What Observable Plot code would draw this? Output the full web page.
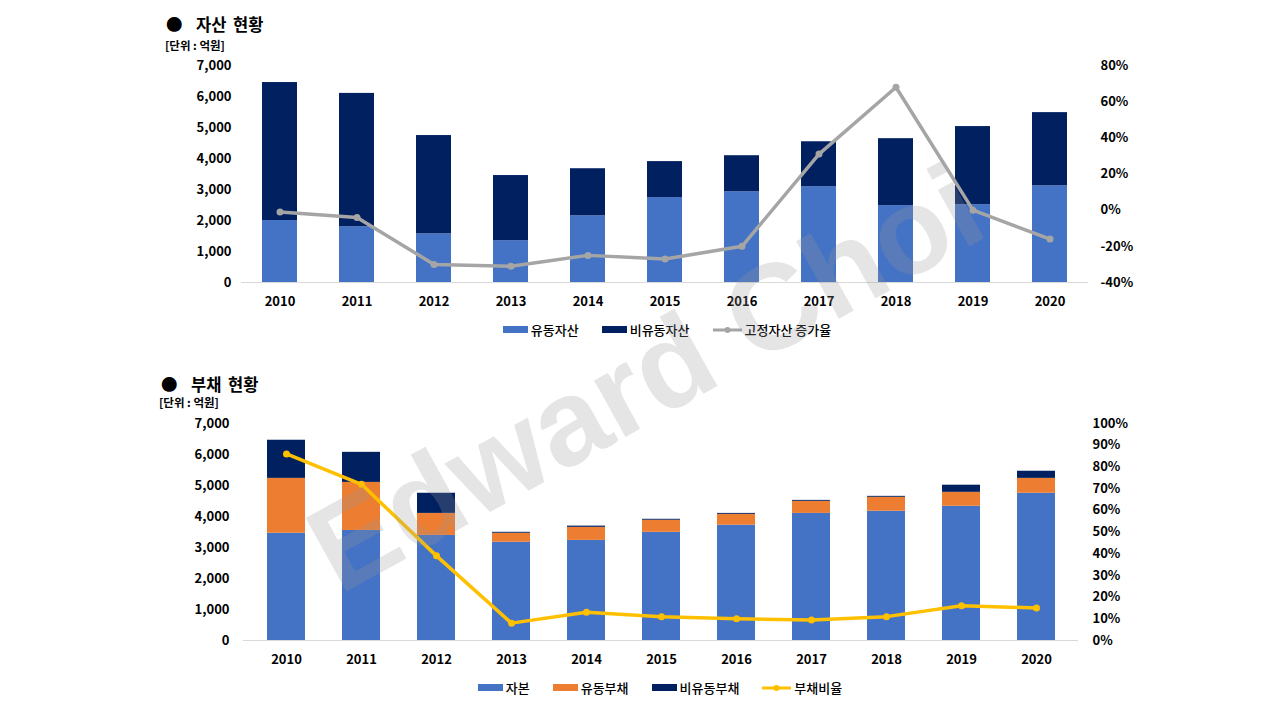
<!DOCTYPE html>
<html>
<head>
<meta charset="utf-8">
<script src="https://cdn.jsdelivr.net/npm/d3@7"></script>
<script src="https://cdn.jsdelivr.net/npm/@observablehq/plot@0.6"></script>
<style>
  body { margin: 0; width: 1280px; height: 720px; background: #fff; position: relative; overflow: hidden;
         font-family: "Noto Sans CJK KR", "Noto Sans", sans-serif; color: #000; }
  .title { position: absolute; font-size: 16.5px; font-weight: bold; white-space: nowrap; word-spacing: 3px; }
  .unit { position: absolute; font-size: 11.5px; font-weight: bold; white-space: nowrap; }
  .chart { position: absolute; left: 0; }
  .legend { position: absolute; width: 1280px; display: flex; justify-content: center; align-items: center;
            font-size: 13px; font-weight: 500; gap: 23px; }
  .legend span.item { display: flex; align-items: center; gap: 3px; }
  .sw { display: inline-block; width: 25px; height: 7px; }
  .watermark { position: absolute; left: 645px; top: 378px; transform: translate(-50%, -50%) rotate(-29deg);
               font-family: "Liberation Sans", Arial, sans-serif; font-weight: bold; font-size: 122px;
               color: rgba(150,150,150,0.25); white-space: nowrap; pointer-events: none; z-index: 10; }
</style>
</head>
<body>
<div class="title" style="left:166px; top:12px;">●&nbsp; 자산 현황</div>
<div class="unit" style="left:165px; top:37px;">[단위 : 억원]</div>
<div id="chart1" class="chart" style="top:55px;"></div>
<div id="legend1" class="legend" style="left:27px; top:320px;"></div>

<div class="title" style="left:161px; top:372px;">●&nbsp; 부채 현황</div>
<div class="unit" style="left:159px; top:394px;">[단위 : 억원]</div>
<div id="chart2" class="chart" style="top:413px;"></div>
<div id="legend2" class="legend" style="left:20px; top:678px;"></div>

<div class="watermark">Edward Choi</div>

<script>
const years = ["2010","2011","2012","2013","2014","2015","2016","2017","2018","2019","2020"]

// 자산 현황 (억원)
const currentAssets    = [2000, 1800, 1570, 1350, 2150, 2740, 2930, 3090, 2480, 2510, 3120]
const nonCurrentAssets = [4450, 4300, 3170, 2100, 1520, 1160, 1160, 1450, 2160, 2520, 2360]
const fixedAssetGrowth = [-1, -4, -30, -31, -25, -27, -20, 31, 68, 0, -16]   // %

// 부채 현황 (억원)
const equity           = [3460, 3550, 3390, 3170, 3230, 3490, 3720, 4100, 4170, 4330, 4750]
const currentLiab      = [1770, 1550, 710, 290, 420, 390, 350, 390, 450, 450, 480]
const nonCurrentLiab   = [1230, 970, 650, 30, 40, 30, 30, 30, 30, 230, 230]
const debtRatio        = [86, 72, 39, 8, 13, 11, 10, 9.5, 11, 16, 15]        // %

const leftTicks = d3.range(0, 7001, 1000)
const blue = "#4472C4", navy = "#002060", orange = "#ED7D31", gray = "#A5A5A5", yellow = "#FFC000"

const style = {
  fontFamily: '"Noto Sans CJK KR", sans-serif',
  fontSize: '13px',
  fontWeight: 'bold',
  color: '#000',
  background: 'transparent',
  overflow: 'visible'
}

function stackRows(series) {
  let rows = []
  series.forEach(s => s.values.forEach((v, i) => rows.push({year: years[i], name: s.name, value: v})))
  return rows
}

// ---- chart 1 ----
let assets = stackRows([
  {name: "유동자산", values: currentAssets},
  {name: "비유동자산", values: nonCurrentAssets}
])
let toLeft1 = p => (p + 40) / 120 * 7000
let growth = years.map((y, i) => ({year: y, v: toLeft1(fixedAssetGrowth[i])}))
let rightTicks1 = [-40, -20, 0, 20, 40, 60, 80]

let chart1 = Plot.plot({
  width: 1280,
  height: 270,
  marginLeft: 241,
  marginRight: 192,
  marginTop: 10,
  marginBottom: 43,
  x: {domain: years, paddingInner: 0.545, paddingOuter: 0.2725, label: null},
  y: {domain: [0, 7000], label: null},
  color: {domain: ["유동자산", "비유동자산"], range: [blue, navy]},
  marks: [
    Plot.barY(assets, {x: "year", y: "value", fill: "name"}),
    Plot.ruleY([0], {stroke: "#d9d9d9", strokeWidth: 1.2}),
    Plot.line(growth, {x: "year", y: "v", stroke: gray, strokeWidth: 3.5}),
    Plot.dot(growth, {x: "year", y: "v", fill: gray, r: 3.5}),
    Plot.axisX({tickSize: 0, tickPadding: 14, label: null}),
    Plot.axisY({anchor: "left", ticks: leftTicks, tickFormat: d3.format(","), tickSize: 0, tickPadding: 10, label: null}),
    Plot.axisY({anchor: "right", ticks: rightTicks1.map(toLeft1), tickFormat: d => Math.round(d / 7000 * 120 - 40) + "%",
                tickSize: 0, tickPadding: 12, label: null, textAnchor: "start"})
  ],
  style: style
})
d3.select('#chart1').append(() => chart1)

// ---- chart 2 ----
let debts = stackRows([
  {name: "자본", values: equity},
  {name: "유동부채", values: currentLiab},
  {name: "비유동부채", values: nonCurrentLiab}
])
let toLeft2 = p => p / 100 * 7000
let ratio = years.map((y, i) => ({year: y, v: toLeft2(debtRatio[i])}))
let rightTicks2 = d3.range(0, 101, 10)

let chart2 = Plot.plot({
  width: 1280,
  height: 270,
  marginLeft: 243,
  marginRight: 202,
  marginTop: 10,
  marginBottom: 43,
  x: {domain: years, paddingInner: 0.5, paddingOuter: 0.25, label: null},
  y: {domain: [0, 7000], label: null},
  color: {domain: ["자본", "유동부채", "비유동부채"], range: [blue, orange, navy]},
  marks: [
    Plot.barY(debts, {x: "year", y: "value", fill: "name"}),
    Plot.ruleY([0], {stroke: "#d9d9d9", strokeWidth: 1.2}),
    Plot.line(ratio, {x: "year", y: "v", stroke: yellow, strokeWidth: 3.5}),
    Plot.dot(ratio, {x: "year", y: "v", fill: yellow, r: 3.5}),
    Plot.axisX({tickSize: 0, tickPadding: 14, label: null}),
    Plot.axisY({anchor: "left", ticks: leftTicks, tickFormat: d3.format(","), tickSize: 0, tickPadding: 14, label: null}),
    Plot.axisY({anchor: "right", ticks: rightTicks2.map(toLeft2), tickFormat: d => Math.round(d / 70) + "%",
                tickSize: 0, tickPadding: 14, label: null, textAnchor: "start"})
  ],
  style: style
})
d3.select('#chart2').append(() => chart2)

// ---- legends ----
function legend(sel, items) {
  let l = d3.select(sel)
  items.forEach(it => {
    let s = l.append("span").attr("class", "item")
    if (it.line) {
      let svg = s.append("svg").attr("width", 29).attr("height", 10)
      svg.append("line").attr("x1", 0).attr("x2", 29).attr("y1", 5).attr("y2", 5)
        .attr("stroke", it.color).attr("stroke-width", 3)
      svg.append("circle").attr("cx", 14.5).attr("cy", 5).attr("r", 3).attr("fill", it.color)
    } else {
      s.append("span").attr("class", "sw").style("background", it.color)
    }
    s.append("span").text(it.name)
  })
}
legend('#legend1', [
  {name: "유동자산", color: blue},
  {name: "비유동자산", color: navy},
  {name: "고정자산 증가율", color: gray, line: true}
])
legend('#legend2', [
  {name: "자본", color: blue},
  {name: "유동부채", color: orange},
  {name: "비유동부채", color: navy},
  {name: "부채비율", color: yellow, line: true}
])
</script>
</body>
</html>
